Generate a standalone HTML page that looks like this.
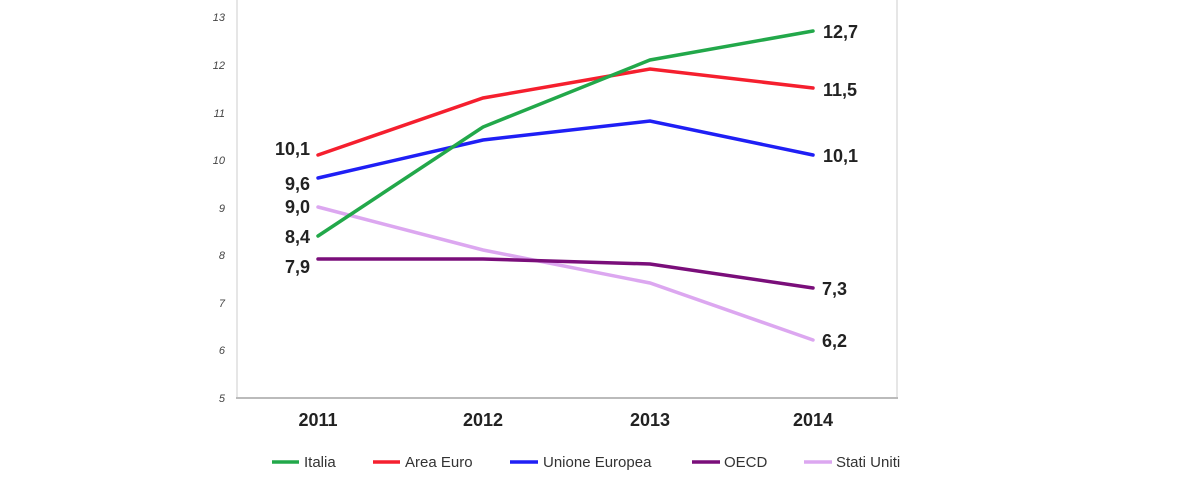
<!DOCTYPE html>
<html><head><style>
body{margin:0;background:#fff;}
svg{display:block;font-family:"Liberation Sans",sans-serif;}
.yl{font-size:11px;font-style:italic;fill:#444;text-anchor:end}
.xl{font-size:18px;font-weight:bold;fill:#222;text-anchor:middle}
.dl{font-size:18px;font-weight:bold;fill:#222}
.lg{font-size:15px;fill:#333}
</style></head><body>
<svg width="1200" height="480" viewBox="0 0 1200 480">
<line x1="237" y1="0" x2="237" y2="398" stroke="#ddd" stroke-width="1.5"/>
<line x1="897" y1="0" x2="897" y2="398" stroke="#ddd" stroke-width="1.5"/>
<line x1="236" y1="398" x2="898" y2="398" stroke="#bbb" stroke-width="2"/>
<g class="yl">
<text x="225" y="21">13</text><text x="225" y="69">12</text><text x="225" y="117">11</text><text x="225" y="164">10</text>
<text x="225" y="212">9</text><text x="225" y="259">8</text><text x="225" y="307">7</text><text x="225" y="354">6</text><text x="225" y="402">5</text>
</g>
<g class="xl"><text x="318" y="426">2011</text><text x="483" y="426">2012</text><text x="650" y="426">2013</text><text x="813" y="426">2014</text></g>
<g fill="none" stroke-width="3.5" stroke-linecap="round">
<polyline stroke="#dca7f0" points="318,207 483,250 650,283 813,340"/>
<polyline stroke="#7a0e7a" points="318,259 483,259 650,264 813,288"/>
<polyline stroke="#1f1ff5" points="318,178 483,140 650,121 813,155"/>
<polyline stroke="#f51f2e" points="318,155 483,98 650,69 813,88"/>
<polyline stroke="#22a84a" points="318,236 483,127 650,60 813,31"/>
</g>
<g class="dl" text-anchor="end">
<text x="310" y="155">10,1</text><text x="310" y="190">9,6</text><text x="310" y="213">9,0</text><text x="310" y="243">8,4</text><text x="310" y="273">7,9</text>
</g>
<g class="dl">
<text x="823" y="38">12,7</text><text x="823" y="96">11,5</text><text x="823" y="162">10,1</text><text x="822" y="295">7,3</text><text x="822" y="347">6,2</text>
</g>
<g stroke-width="3.5">
<line x1="272" y1="462" x2="299" y2="462" stroke="#22a84a"/>
<line x1="373" y1="462" x2="400" y2="462" stroke="#f51f2e"/>
<line x1="510" y1="462" x2="538" y2="462" stroke="#1f1ff5"/>
<line x1="692" y1="462" x2="720" y2="462" stroke="#7a0e7a"/>
<line x1="804" y1="462" x2="832" y2="462" stroke="#dca7f0"/>
</g>
<g class="lg">
<text x="304" y="467">Italia</text><text x="405" y="467">Area Euro</text><text x="543" y="467">Unione Europea</text><text x="724" y="467">OECD</text><text x="836" y="467">Stati Uniti</text>
</g>
</svg>
</body></html>
